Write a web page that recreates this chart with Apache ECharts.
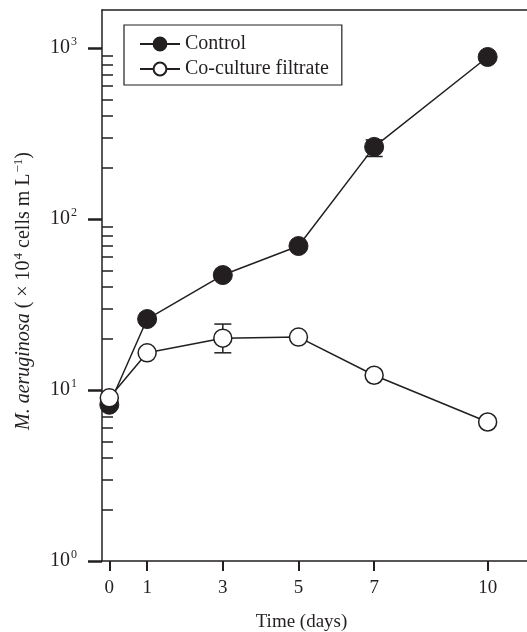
<!DOCTYPE html>
<html><head><meta charset="utf-8">
<script src="https://cdn.jsdelivr.net/npm/echarts@6/dist/echarts.min.js"></script>
<style>html,body{margin:0;padding:0;background:#fff}#c{width:527px;height:632px}</style>
</head><body><div id="c"></div>
<script>
// ---- data ----
const days = [0, 1, 3, 5, 7, 10];
const xTicks = [0, 1, 3, 5, 7, 10];
const control = [8.2, 26, 47, 69.5, 264, 886];
const coculture = [9.0, 16.5, 20.1, 20.4, 12.2, 6.5];
const controlErr = [[7, 232, 290]];
const cocultureErr = [[3, 16.5, 24.3]];
const yMajor = [1, 10, 100, 1000];
const yMinor = [2, 3, 4, 5, 6, 7, 8, 9, 20, 30, 40, 50, 60, 70, 80, 90, 200, 300, 400, 500, 600, 700, 800, 900];
const seriesNames = ['Control', 'Co-culture filtrate'];
const xTitle = 'Time (days)';

const ink = '#231f20';
const ff = 'Liberation Serif';

function errItem(params, api) {
  const x = api.value(0), lo = api.value(1), hi = api.value(2);
  const a = api.coord([x, lo]), b = api.coord([x, hi]);
  const w = 8.5;
  const style = { stroke: ink, lineWidth: 1.5, fill: null };
  return { type: 'group', children: [
    { type: 'line', shape: { x1: a[0], y1: a[1], x2: b[0], y2: b[1] }, style },
    { type: 'line', shape: { x1: a[0] - w, y1: a[1], x2: a[0] + w, y2: a[1] }, style },
    { type: 'line', shape: { x1: b[0] - w, y1: b[1], x2: b[0] + w, y2: b[1] }, style }
  ]};
}

const chart = echarts.init(document.getElementById('c'), null, { renderer: 'canvas' });
const yBase = { type: 'log', logBase: 10, min: 1, max: 1668, position: 'left', offset: 0, splitLine: { show: false } };
chart.setOption({
  animation: false,
  backgroundColor: '#fff',
  grid: { left: 102, right: 0, top: 10, bottom: 71, containLabel: false, outerBoundsMode: 'none' },
  legend: {
    orient: 'vertical', left: 124, top: 25,
    data: seriesNames,
    itemWidth: 40, itemHeight: 16, itemGap: 5, itemTextGap: 7,
    padding: [9, 13, 6, 15],
    borderColor: ink, borderWidth: 1.2,
    textStyle: { fontFamily: ff, fontSize: 20, color: ink }
  },
  xAxis: [{
    type: 'value', min: -0.193, max: 11.04, position: 'bottom',
    axisLine: { onZero: false, lineStyle: { color: ink, width: 1.5 } },
    axisTick: { customValues: xTicks, length: 10, lineStyle: { color: ink, width: 2 } },
    axisLabel: { customValues: xTicks, margin: 18, fontFamily: ff, fontSize: 19, color: ink },
    splitLine: { show: false },
    name: xTitle, nameLocation: 'middle', nameGap: 52,
    nameTextStyle: { fontFamily: ff, fontSize: 19, color: ink, padding: [0, 26, 0, 0] }
  }, {
    type: 'value', min: -0.193, max: 11.04, position: 'top',
    axisLine: { onZero: false, lineStyle: { color: ink, width: 1.5 } },
    axisTick: { show: false }, axisLabel: { show: false }, splitLine: { show: false }
  }],
  yAxis: [Object.assign({}, yBase, {
    axisLine: { onZero: false, lineStyle: { color: ink, width: 1.5 } },
    axisTick: { customValues: yMajor, length: 14, lineStyle: { color: ink, width: 2.5 } },
    axisLabel: {
      customValues: yMajor, margin: 25, color: ink,
      formatter: v => '{b|10}{s|' + Math.round(Math.log10(v)) + '}',
      rich: {
        b: { fontFamily: ff, fontSize: 20, lineHeight: 24, color: ink },
        s: { fontFamily: ff, fontSize: 12, lineHeight: 14, verticalAlign: 'top', color: ink, padding: [0, 0, 0, 1] }
      }
    },
    name: '{i|M. aeruginosa}{n| ( × 10}{s|4}{n| cells m L}{s|−1}{n|)}',
    nameLocation: 'middle', nameGap: 66, nameRotate: 90,
    nameTextStyle: {
      padding: [0, 11, 0, 0],
      rich: {
        i: { fontFamily: ff, fontSize: 20, lineHeight: 24, fontStyle: 'italic', color: ink },
        n: { fontFamily: ff, fontSize: 20, lineHeight: 24, color: ink },
        s: { fontFamily: ff, fontSize: 13, lineHeight: 14, verticalAlign: 'top', color: ink, padding: [0, 0, 0, 1] }
      }
    }
  }), Object.assign({}, yBase, {
    axisLine: { show: false, onZero: false },
    axisTick: { customValues: yMinor, inside: true, length: 11, lineStyle: { color: ink, width: 1.5 } },
    axisLabel: { show: false }
  })],
  series: [
    { type: 'custom', name: 'errC', xAxisIndex: 0, yAxisIndex: 0, renderItem: errItem,
      encode: { x: 0, y: [1, 2] }, data: controlErr, z: 1, silent: true },
    { type: 'custom', name: 'errF', xAxisIndex: 0, yAxisIndex: 0, renderItem: errItem,
      encode: { x: 0, y: [1, 2] }, data: cocultureErr, z: 1, silent: true },
    { type: 'line', name: seriesNames[0], xAxisIndex: 0, yAxisIndex: 0, z: 3,
      data: days.map((d, i) => [d, control[i]]),
      symbol: 'circle', symbolSize: 19,
      lineStyle: { color: ink, width: 1.5 },
      itemStyle: { color: ink, borderColor: ink, borderWidth: 1 } },
    { type: 'line', name: seriesNames[1], xAxisIndex: 0, yAxisIndex: 0, z: 4,
      data: days.map((d, i) => [d, coculture[i]]),
      symbol: 'circle', symbolSize: 18,
      lineStyle: { color: ink, width: 1.5 },
      itemStyle: { color: '#fff', borderColor: ink, borderWidth: 1.5 } }
  ]
});
</script></body></html>
